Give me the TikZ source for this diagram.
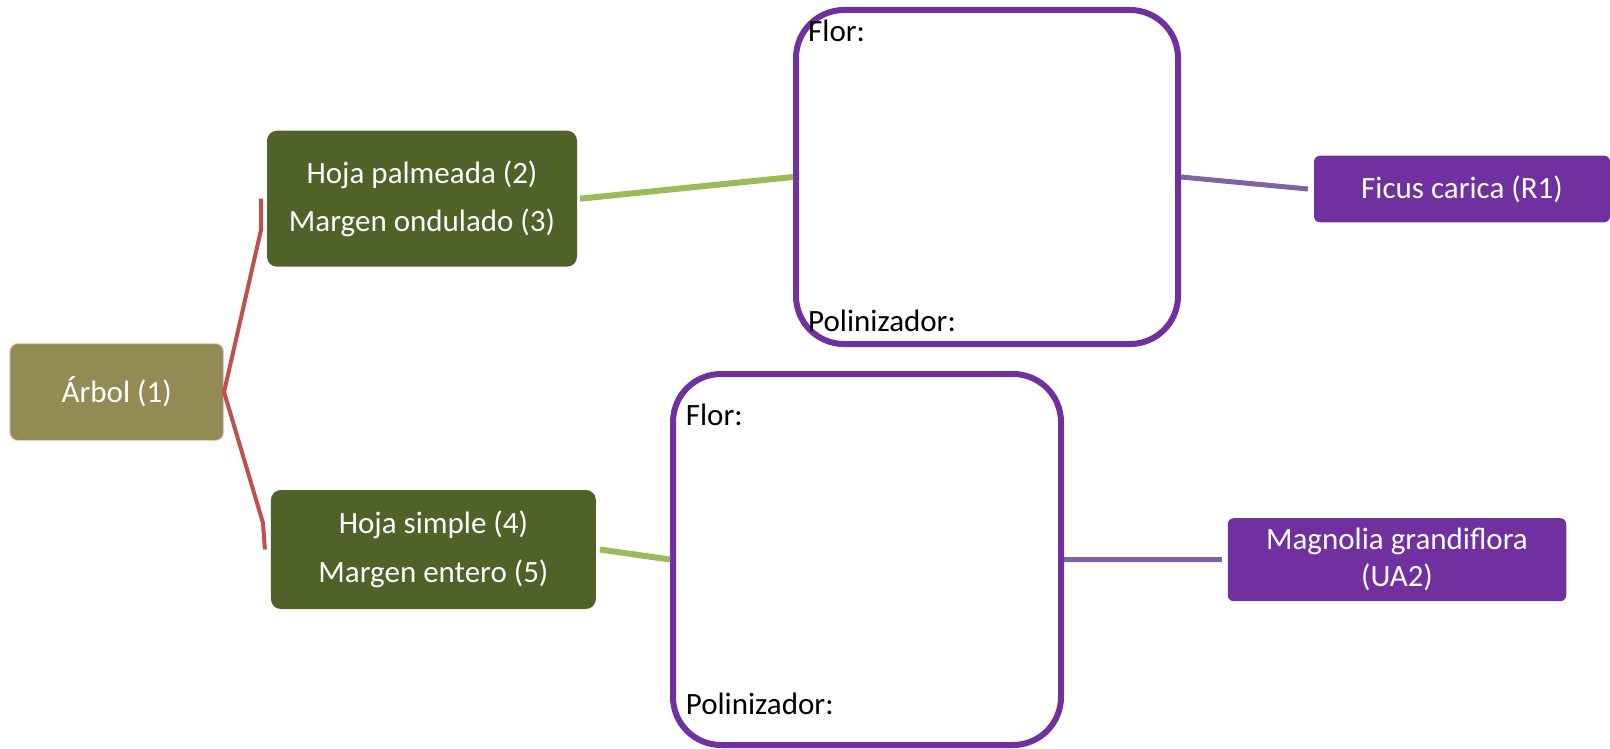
\documentclass[tikz,border=0pt]{standalone}
\usepackage{fontspec}
\setmainfont{Carlito}
\definecolor{arbolfill}{HTML}{948A54}
\definecolor{arbolline}{HTML}{D8D3C0}
\definecolor{leafgreen}{HTML}{4F6228}
\definecolor{linegreen}{HTML}{9BBB59}
\definecolor{linered}{HTML}{C0504D}
\definecolor{framepurple}{HTML}{7030A0}
\definecolor{linepurple}{HTML}{8064A2}
\tikzset{
  arbolbox/.style={draw=arbolline, line width=1pt, fill=arbolfill, rounded corners=8pt,
    text=white, font=\fontsize{31}{37}\selectfont, inner sep=0pt},
  leafbox/.style={fill=leafgreen, rounded corners=10pt, text=white, align=center,
    font=\fontsize{31}{48.7}\selectfont, inner sep=0pt, outer sep=0pt},
  flowerframe/.style={draw=framepurple, line width=6pt, rounded corners=48pt, inner sep=0pt},
  speciesbox/.style={fill=framepurple, rounded corners=6pt, text=white, align=center,
    font=\fontsize{31}{36.7}\selectfont, inner sep=0pt, outer sep=0pt},
  framelabel/.style={anchor=base west, inner sep=0pt, text=black, font=\fontsize{31}{37}\selectfont},
  redlink/.style={draw=linered, line width=4pt},
  greenlink/.style={draw=linegreen, line width=6pt},
  purplelink/.style={draw=linepurple, line width=5pt}
}
\begin{document}
\begin{tikzpicture}[x=1pt, y=-1pt]
\useasboundingbox (0,0) rectangle (1610,749);

% nodes
\node[arbolbox, minimum width=213.7pt, minimum height=97pt] (arbol) at (116.7,392) {Árbol (1)};
\node[leafbox, minimum width=310pt, minimum height=136pt] (g1) at (422,198.7)
  {Hoja palmeada (2)\\ Margen ondulado (3)};
\node[leafbox, minimum width=325pt, minimum height=119pt] (g2) at (433.4,549.5)
  {Hoja simple (4)\\ Margen entero (5)};
\node[flowerframe, minimum width=382pt, minimum height=334pt] (p1) at (987,177) {};
\node[flowerframe, minimum width=388pt, minimum height=371pt] (p2) at (867,559.5) {};
\node[speciesbox, minimum width=296pt, minimum height=66.6pt] (ficus) at (1462,189) {Ficus carica (R1)};
\node[speciesbox, minimum width=338.5pt, minimum height=83pt] (magnolia) at (1397,559.7)
  {Magnolia grandiflora\\ (UA2)};

\node[framelabel] (flor1) at (808,41.7) {Flor:};
\node[framelabel] (pol1) at (808,331.7) {Polinizador:};
\node[framelabel] (flor2) at (685.7,425) {Flor:};
\node[framelabel] (pol2) at (685.7,714.3) {Polinizador:};

% connectors
\coordinate (bendup) at (261,230);
\coordinate (benddown) at (263,523);
\draw[redlink] (arbol.east) -- (bendup) -- ([xshift=-6pt]g1.west);
\draw[redlink] (arbol.east) -- (benddown) -- ([xshift=-6pt]g2.west);
\draw[greenlink] ([xshift=3pt]g1.east) -- (p1.west);
\draw[greenlink] ([xshift=4pt]g2.east) -- (p2.west);
\draw[purplelink] (p1.east) -- ([xshift=-6pt]ficus.west);
\draw[purplelink] (p2.east) -- ([xshift=-6pt]magnolia.west);
\end{tikzpicture}
\end{document}
